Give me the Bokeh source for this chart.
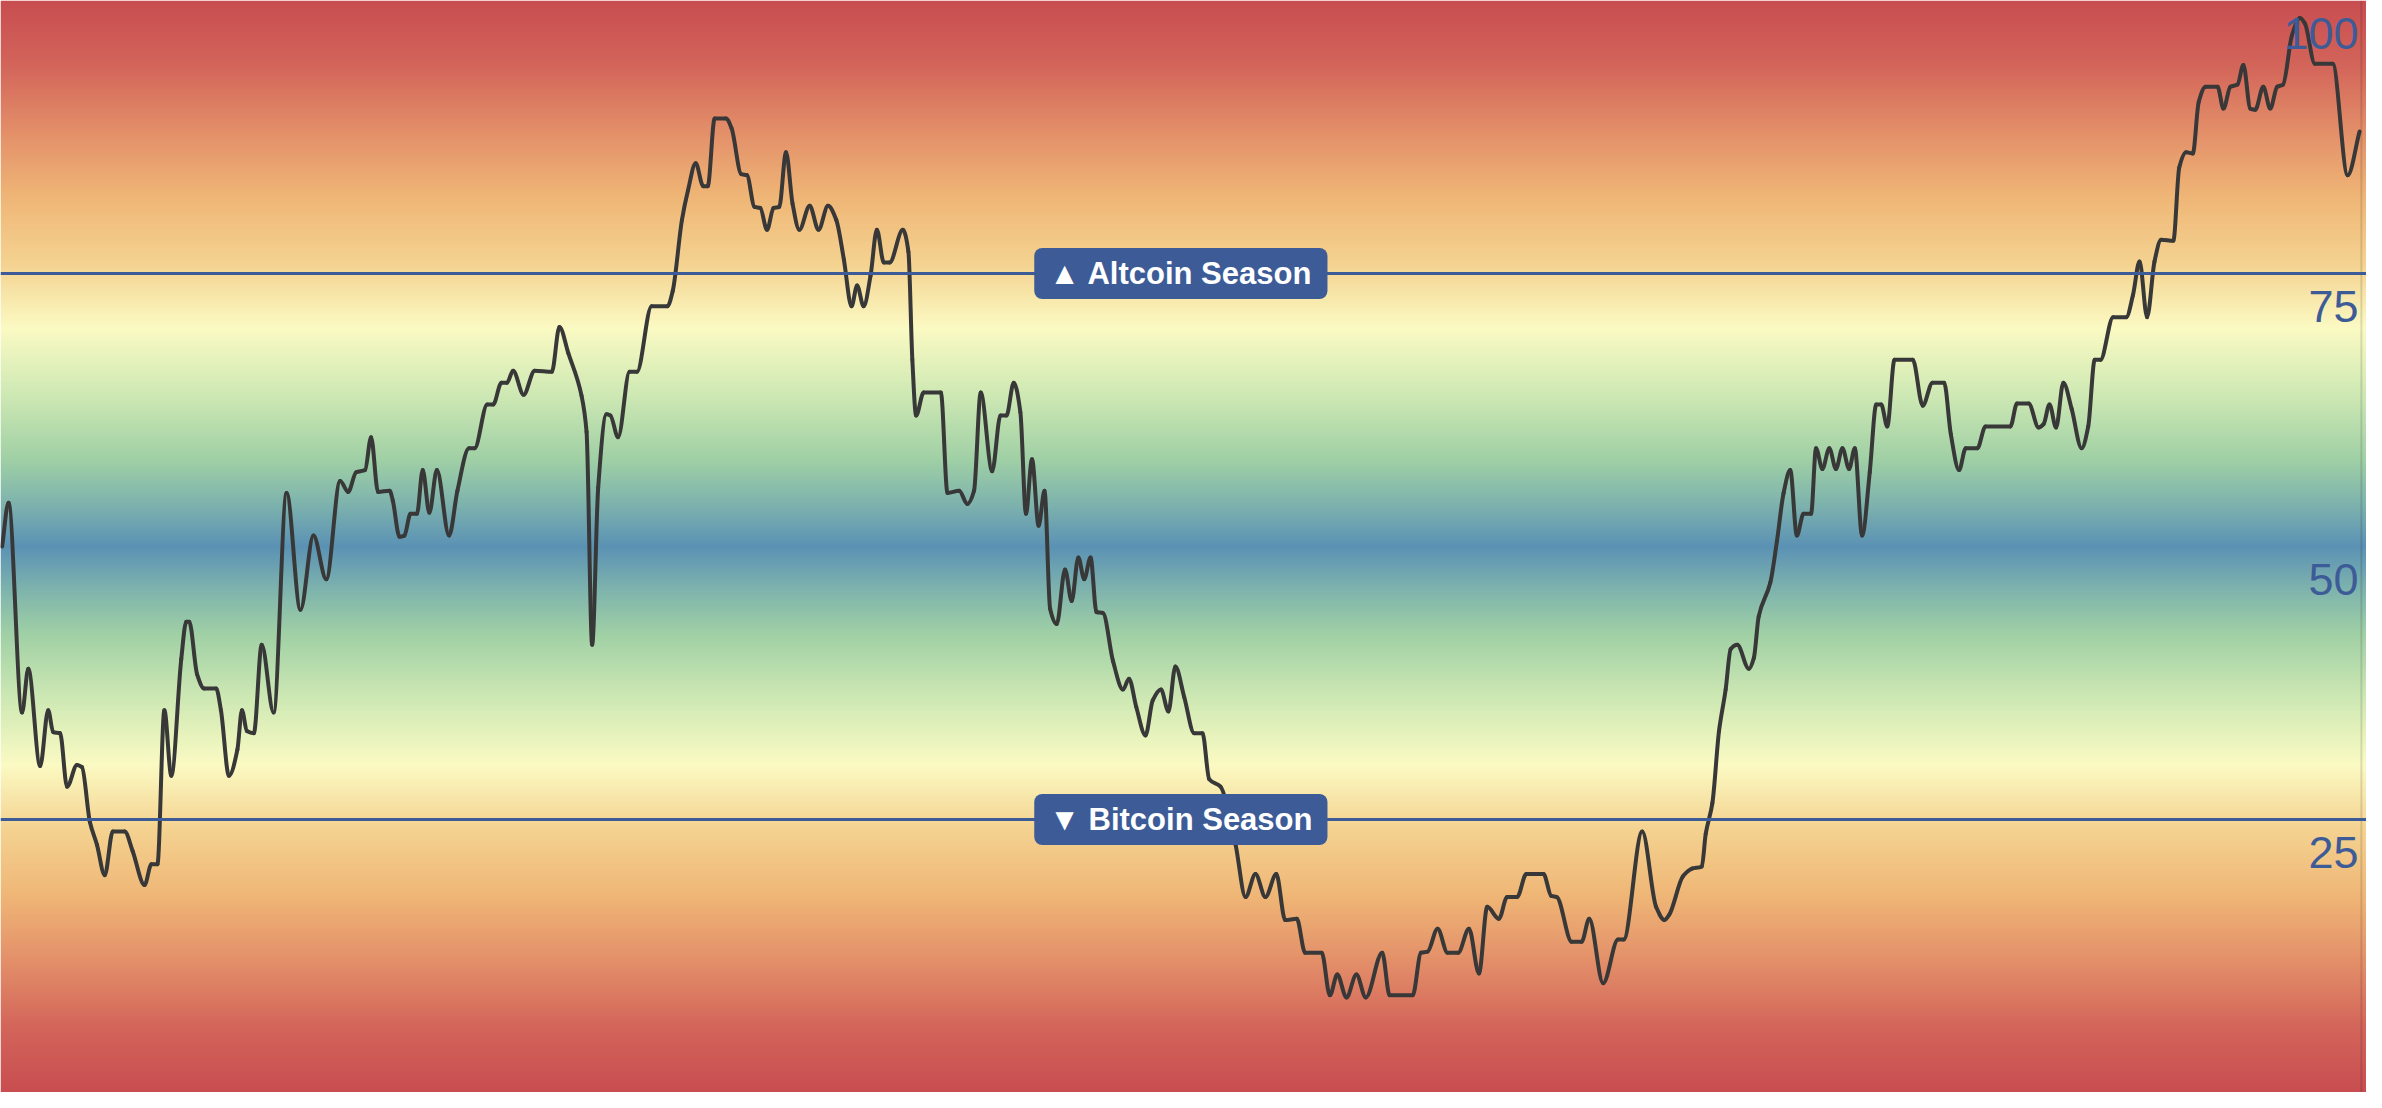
import numpy as np
from bokeh.plotting import figure
from bokeh.models import Range1d, Span, Label
from bokeh.core.properties import value
from bokeh.embed import file_html
from bokeh.resources import INLINE

# ---------------- data ----------------
t = [1.1, 5.3, 14.3, 18.4, 26.3, 31.6, 34.9, 39.5, 44.1, 50.7, 54.0, 59.2, 63.9, 69.1,
     74.4, 82.3, 87.6, 95.5, 100.0, 104.0, 108.6, 113.2, 119.8, 123.1, 125.1, 130.3,
     135.0, 142.9, 146.1, 151.4, 157.0, 160.0, 163.3, 167.9, 173.1, 181.0, 189.6, 198.8,
     207.4, 215.9, 225.1, 230.4, 235.7, 241.6, 245.6, 250.2,
     257.9, 260.0, 264.4, 267.7, 271.7, 276.0, 279.8, 284.2, 289.2, 297.3, 302.8, 310.5,
     314.2, 322.6, 326.5, 332.0, 335.7, 339.7, 346.7, 354.0, 365.4, 370.4, 376.3, 385.1,
     388.4, 392.1, 396.1, 401.6, 404.2, 409.3, 416.9, 421.8, 431.5, 442.0, 445.5,
     451.6, 455.6, 460.7, 465.7, 468.7, 473.3, 480.8, 484.5, 490.9, 494.7, 499.7, 503.5,
     508.0, 512.3, 516.1, 520.6, 524.9, 529.4, 536.3, 542.1, 548.4, 553.9, 558.9, 564.0,
     567.7, 572.0, 576.6, 580.8, 585.4, 589.2, 598.0, 601.7, 604.3, 606.8, 611.8, 623.2,
     627.6, 635.3, 640.8, 645.2, 649.6, 657.2, 662.7, 666.7, 671.5, 675.9, 679.6, 683.6,
     688.0, 691.9, 695.6, 700.0, 705.5, 709.9, 714.3, 718.2, 722.4, 726.3, 730.7, 737.3,
     743.9, 747.9, 752.7, 758.8, 763.6, 769.1, 774.0, 778.6, 784.5, 791.1, 796.6, 801.0,
     808.6,
     818.5, 825.1, 831.7, 838.3, 845.5, 851.4, 859.1, 864.6, 875.6, 881.0, 885.9, 892.0,
     898.6, 904.8, 915.7, 920.6, 935.9, 941.4, 945.8, 952.4, 959.0, 966.0, 973.2, 979.8,
     985.3, 993.0, 998.5, 1005.1, 1011.2, 1022.6, 1027.7, 1031.4, 1041.3, 1047.8, 1052.9,
     1062.1, 1072.0, 1075.7, 1088.0, 1097.2, 1102.7, 1106.0, 1115.0, 1121.0,
     1127.5, 1130.1, 1134.5, 1138.9, 1143.3, 1146.6, 1151.0, 1158.7, 1162.0, 1165.2,
     1172.9, 1177.3, 1181.7, 1186.1, 1190.5, 1194.9, 1199.9, 1203.2, 1207.4, 1212.0,
     1216.4, 1220.7, 1225.1, 1228.9, 1233.7, 1238.8, 1243.1, 1246.4, 1250.4, 1255.2,
     1267.3, 1273.9, 1280.4, 1288.1, 1292.5, 1298.0,
     1302.4, 1310.1, 1315.5, 1332.0, 1336.4, 1344.1, 1350.7, 1354.0, 1357.9, 1362.3,
     1367.1, 1372.6, 1379.2, 1383.6, 1387.9, 1391.7, 1400.1, 1408.8, 1413.2, 1417.6,
     1422.6, 1427.5, 1431.9, 1440.0, 1443.9,
     1448.5, 1452.9, 1456.8, 1461.4, 1469.3, 1473.2, 1477.8, 1482.5, 1486.4, 1491.0,
     1494.3, 1499.6, 1504.2, 1508.8, 1512.7, 1518.6, 1523.9, 1527.2, 1533.8, 1545.6,
     1555.5, 1563.4]

index_values = [50.0, 54.0, 34.8, 38.8, 29.9, 35.0, 33.0, 32.9, 28.0, 30.0, 29.8, 24.8,
                22.7, 19.9, 23.9, 23.9, 22.1, 19.0, 20.9, 20.9, 35.0, 29.0, 39.7, 43.1,
                43.1, 38.3, 37.0, 37.0, 35.0, 29.0, 31.4, 35.0, 33.1, 32.9, 41.0, 34.8,
                54.9, 44.2, 51.0, 47.0, 56.0, 55.0, 56.8, 57.0, 60.0, 55.0,
                55.1, 54.2, 50.9, 51.0, 53.0, 53.0, 57.0, 53.1, 57.0, 51.0, 55.1, 59.0,
                59.0, 63.0, 63.0, 65.0, 65.0, 66.1, 63.9, 66.1, 66.0, 70.1, 67.7, 63.8,
                60.5, 41.0, 55.4, 62.1, 62.0, 60.0, 66.0, 66.0, 72.0, 72.0, 73.4,
                79.9, 82.6, 85.1, 83.0, 83.0, 89.2, 89.2, 88.3, 84.1, 84.0, 81.1, 81.0,
                79.0, 81.0, 81.1, 86.1, 81.4, 79.0, 81.2, 79.0, 81.2, 79.9, 76.3, 72.0,
                73.9, 72.0, 74.8, 79.0, 76.0, 76.0, 79.0, 77.0, 67.1, 62.0, 64.1, 64.1,
                54.9, 55.1, 53.9, 55.1, 64.1, 56.9, 62.0, 62.0, 65.0, 62.3, 53.0, 58.0,
                51.9, 55.1, 44.3, 42.9, 47.9, 45.0, 49.0, 47.0, 49.0, 44.0, 43.9, 39.5,
                36.9, 37.9, 35.3, 32.7, 35.9, 36.9, 34.9, 39.0, 36.2, 32.9, 32.9, 28.7,
                28.0,
                22.7, 17.9, 20.0, 17.9, 20.0, 15.8, 15.9, 12.8, 12.8, 8.9, 10.8, 8.7,
                10.8, 8.7, 12.8, 8.9, 8.9, 12.8, 12.9, 15.0, 12.8, 12.8, 15.0, 10.9,
                17.0, 15.9, 17.9, 17.9, 20.0, 20.0, 18.0, 17.9, 13.8, 13.8, 15.9,
                10.0, 14.0, 14.0, 23.9, 17.0, 15.8, 16.3, 19.8, 20.5,
                20.7, 23.7, 26.5, 33.1, 36.9, 40.6, 41.0, 38.8, 39.8, 43.6,
                46.7, 50.5, 54.9, 57.0, 51.0, 53.0, 53.0, 59.0, 57.1, 59.0,
                57.1, 59.0, 57.1, 59.0, 51.0, 56.8, 63.0, 63.0, 61.0, 67.1,
                67.1, 62.9, 65.0, 65.0, 60.3, 57.0,
                59.0, 59.0, 61.0, 61.0, 63.1, 63.1, 60.9, 61.2, 63.0, 60.9,
                65.0, 62.6, 59.0, 61.0, 67.1, 67.1, 71.0, 71.0, 73.0, 76.1,
                71.0, 76.1, 78.1, 78.0, 84.7,
                86.1, 86.0, 90.7, 92.1, 92.1, 90.1, 92.1, 92.3, 94.1, 90.1,
                90.0, 92.1, 90.1, 92.1, 92.3, 96.8, 98.4, 97.9, 94.2, 94.2,
                84.0, 88.0]

y_ticks = [25, 50, 75, 100]
tick_labels = ["25", "50", "75", "100"]
thresholds = [75, 25]
threshold_labels = ["\u25B2 Altcoin Season", "\u25BC Bitcoin Season"]

# background colour ramp (index value -> colour)
grad_stops = [0, 6, 12, 18, 24, 30, 36, 42, 46, 50, 54, 58, 64, 70, 76, 82, 88, 94, 100]
grad_colors = ["#c84d50", "#d3655a", "#e38f69", "#efb676", "#f4d290", "#fbfac3",
               "#cfe9b4", "#a0d0a5", "#7fb4ad", "#5b92b4", "#7fb4ad", "#a0d0a5",
               "#cfe9b4", "#fbfac3", "#f4d290", "#efb676", "#e38f69", "#d3655a", "#c84d50"]

X_START, X_END = 0, 1568
W, H = 2366, 1092

# ---------------- figure ----------------
p = figure(width=W, height=H, x_range=Range1d(X_START, X_END), y_range=Range1d(0, 100),
           toolbar_location=None, output_backend="svg", min_border=0)
p.xaxis.visible = False
p.yaxis.visible = False
p.grid.visible = False
p.outline_line_color = None
p.background_fill_color = "white"

# gradient background
def hex2rgb(hx):
    hx = hx.lstrip("#")
    return [int(hx[i:i + 2], 16) for i in (0, 2, 4)]

rgb = np.array([hex2rgb(c) for c in grad_colors], dtype=float)
rows = H
vals = (np.arange(rows) + 0.5) / rows * 100
img = np.empty((rows, 1), dtype=np.uint32)
view = img.view(dtype=np.uint8).reshape((rows, 1, 4))
for k in range(3):
    view[:, 0, k] = np.round(np.interp(vals, grad_stops, rgb[:, k])).astype(np.uint8)
view[:, 0, 3] = 255
p.image_rgba(image=[img], x=X_START, y=0, dw=X_END - X_START, dh=100)

# smooth (monotone cubic) line through the points, drawn as bezier segments
x = np.array(t, float)
y = np.array(index_values, float)
h = np.diff(x)
d = np.diff(y) / h
m = np.zeros_like(y)
m[0], m[-1] = d[0], d[-1]
for i in range(1, len(y) - 1):
    if d[i - 1] * d[i] <= 0:
        m[i] = 0.0
    else:
        w1 = 2 * h[i] + h[i - 1]
        w2 = h[i] + 2 * h[i - 1]
        m[i] = (w1 + w2) / (w1 / d[i - 1] + w2 / d[i])
p.bezier(x0=x[:-1], y0=y[:-1], x1=x[1:], y1=y[1:],
         cx0=x[:-1] + h / 3, cy0=y[:-1] + m[:-1] * h / 3,
         cx1=x[1:] - h / 3, cy1=y[1:] - m[1:] * h / 3,
         line_color="#383838", line_width=4, line_cap="round")

# right border line
p.add_layout(Span(location=t[-1] + 1.2, dimension="height", line_color="#000000",
                  line_alpha=0.12, line_width=2))

# tick labels (drawn inside, right aligned, just below each tick)
p.text(x=[t[-1]] * len(y_ticks), y=y_ticks, text=tick_labels, text_align="right",
       text_baseline="middle", y_offset=33, x_offset=-1,
       text_font=value("Liberation Sans"), text_font_size="45px", text_color="#3d5c97")

# threshold lines + labels
mid = (t[0] + t[-1]) / 2
for level in thresholds:
    p.add_layout(Span(location=level, dimension="width", line_color="#3d5c97", line_width=3))
for level, lab in zip(thresholds, threshold_labels):
    p.add_layout(Label(x=mid, y=level, text=lab, text_align="center", text_baseline="middle",
                       text_color="white", text_font="Liberation Sans",
                       text_font_style="bold", text_font_size="31px",
                       background_fill_color="#3d5c97", border_line_color=None,
                       padding=dict(left=15, right=15, top=8, bottom=8), border_radius=8))

open("out.html", "w").write(file_html(p, INLINE))
